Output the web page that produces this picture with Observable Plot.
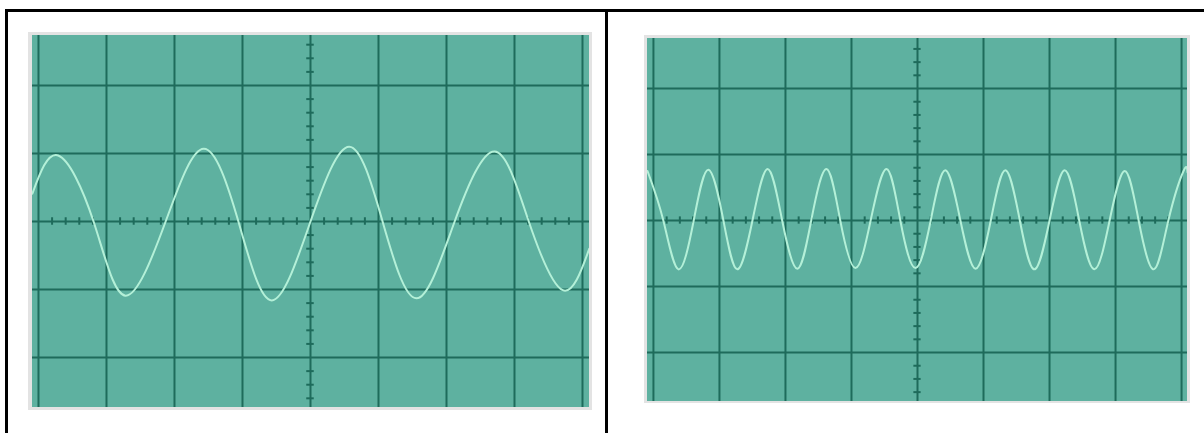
<!DOCTYPE html>
<html>
<head>
<meta charset="utf-8">
<script src="https://cdn.jsdelivr.net/npm/d3@7"></script>
<script src="https://cdn.jsdelivr.net/npm/@observablehq/plot@0.6"></script>
<style>
  html, body { margin: 0; padding: 0; background: #fff; }
  #page { position: relative; width: 1204px; height: 433px; overflow: hidden; font-family: "DejaVu Sans", sans-serif; }
  .rule { position: absolute; background: #000; }
  .bezel { position: absolute; background: #e3e3e3; box-sizing: content-box; }
  .bezel svg { display: block; }
</style>
</head>
<body>
<div id="page">
  <div class="rule" style="left:5px; top:9px; width:1199px; height:3px;"></div>
  <div class="rule" style="left:5px; top:9px; width:3px; height:424px;"></div>
  <div class="rule" style="left:605px; top:9px; width:3px; height:424px;"></div>
  <div class="bezel" id="left" style="left:28px; top:32px; padding:3px 3px 3px 4px;"></div>
  <div class="bezel" id="right" style="left:644px; top:35px; padding:3px 3px 2px 3px;"></div>
</div>
<script>
// Trace A: lower-frequency sine, positions in screen divisions (x: time/div, y: volts/div)
const traceAx = [-4.09, -3.71, -3.19, -2.72, -2.13, -1.57, -1.06, -0.57, 0.00, 0.57, 1.06, 1.56, 2.12, 2.71, 3.21, 3.71, 4.10];
const traceAy = [0.41, 0.97, 0.00, -1.09, 0.00, 1.07, 0.00, -1.16, 0.00, 1.10, 0.00, -1.13, 0.00, 1.03, 0.00, -1.01, -0.40];

// Trace B: higher-frequency sine, same units
const traceBx = [-4.09, -3.85, -3.62, -3.39, -3.17, -2.94, -2.73, -2.50, -2.27, -2.05, -1.82, -1.61, -1.38, -1.17, -0.94, -0.71, -0.47, -0.26, -0.03, 0.20, 0.42, 0.65, 0.88, 1.11, 1.33, 1.55, 1.77, 2.00, 2.23, 2.45, 2.68, 2.91, 3.14, 3.35, 3.58, 3.80, 4.03, 4.09];
const traceBy = [0.75, 0.00, -0.74, 0.00, 0.77, 0.00, -0.74, 0.00, 0.78, 0.00, -0.73, 0.00, 0.78, 0.00, -0.72, 0.00, 0.78, 0.00, -0.72, 0.00, 0.76, 0.00, -0.73, 0.00, 0.76, 0.00, -0.74, 0.00, 0.76, 0.00, -0.74, 0.00, 0.75, 0.00, -0.74, 0.00, 0.75, 0.73];

// Graticule: major divisions and the minor marks along the centre axes
const majorX = [-4, -3, -2, -1, 0, 1, 2, 3, 4];
const majorY = [-3, -2, -1, 0, 1, 2, 3];
const minorX = d3.range(-4.8, 4.81, 0.2).map(v => +v.toFixed(1)).filter(v => !Number.isInteger(v));
const minorY = d3.range(-3.8, 3.81, 0.2).map(v => +v.toFixed(1)).filter(v => !Number.isInteger(v));

const SCREEN = "#5eb1a0";
const GRID = "#1e6b5b";
const BEAM = "#b4f0d8";

function scope({xs, ys, width, height, xDomain, yDomain}) {
  const trace = xs.map((x, i) => ({x, y: ys[i]}));
  const t = 0.055;
  return Plot.plot({
    width, height,
    margin: 0,
    x: {domain: xDomain, axis: null},
    y: {domain: yDomain, axis: null},
    style: {background: SCREEN, display: "block", overflow: "hidden"},
    marks: [
      Plot.ruleX(majorX, {x: d => d, stroke: GRID, strokeWidth: 2}),
      Plot.ruleY(majorY, {y: d => d, stroke: GRID, strokeWidth: 2}),
      Plot.ruleX(minorX, {x: d => d, y1: () => -t, y2: () => t, stroke: GRID, strokeWidth: 2}),
      Plot.ruleY(minorY, {y: d => d, x1: () => -t, x2: () => t, stroke: GRID, strokeWidth: 2}),
      Plot.line(trace, {x: "x", y: "y", curve: "natural", stroke: BEAM, strokeWidth: 2, clip: true})
    ]
  });
}

document.getElementById("left").append(scope({
  xs: traceAx, ys: traceAy,
  width: 557, height: 372,
  xDomain: [-4.088, 4.103], yDomain: [-2.735, 2.735]
}));

document.getElementById("right").append(scope({
  xs: traceBx, ys: traceBy,
  width: 540, height: 363,
  xDomain: [-4.09, 4.09], yDomain: [-2.742, 2.758]
}));
</script>
</body>
</html>
